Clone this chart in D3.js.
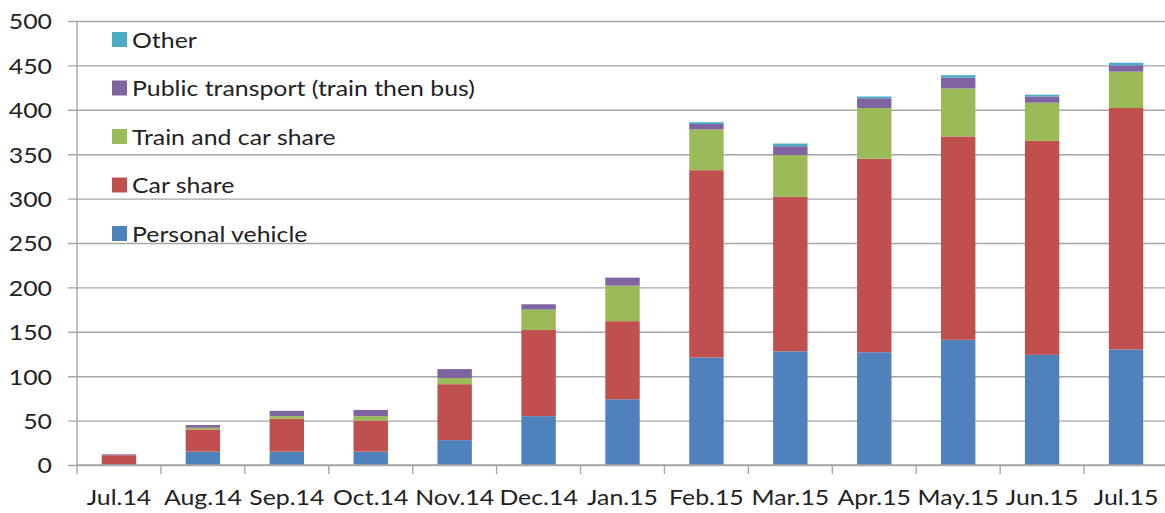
<!DOCTYPE html>
<html>
<head>
<meta charset="utf-8">
<script src="https://cdn.jsdelivr.net/npm/d3@7"></script>
<style>
  html, body { margin: 0; padding: 0; background: #fff; }
  svg text { font-family: "Lato", "Liberation Sans", sans-serif; fill: #222; }
</style>
</head>
<body>
<svg id="chart" width="1165" height="513"></svg>
<script>
// Monthly counts by commute mode
const months = ["Jul.14", "Aug.14", "Sep.14", "Oct.14", "Nov.14", "Dec.14", "Jan.15",
                "Feb.15", "Mar.15", "Apr.15", "May.15", "Jun.15", "Jul.15"];
const personalVehicle = [1, 15, 15, 15, 28, 55, 74, 121, 128, 127, 141, 124, 130];
const carShare        = [10, 25, 37, 35, 63, 97, 88, 211, 174, 218, 229, 241, 272];
const trainCarShare   = [0, 2, 3, 5, 7, 23, 40, 46, 47, 57, 54, 43, 41];
const publicTransport = [1, 3, 6, 7, 10, 6, 9, 6, 10, 11, 12, 7, 7];
const other           = [0, 0, 0, 0, 0, 0, 0, 2, 3, 2, 3, 2, 3];
const yTicks = [0, 50, 100, 150, 200, 250, 300, 350, 400, 450, 500];

const seriesNames = ["Personal vehicle", "Car share", "Train and car share",
                     "Public transport (train then bus)", "Other"];
const seriesColors = ["#4F81BD", "#C0504D", "#9BBB59", "#8064A2", "#4BACC6"];
const seriesValues = [personalVehicle, carShare, trainCarShare, publicTransport, other];

const rows = months.map((m, i) => {
  const r = { month: m };
  seriesNames.forEach((s, k) => { r[s] = seriesValues[k][i]; });
  return r;
});

const svg = d3.select("#chart");
const plotLeft = 77, plotRight = 1168, plotTop = 21, plotBottom = 465;
const fontSize = 22, widen = 1.13;   // slightly widened lettering

const x = d3.scaleBand().domain(months).range([plotLeft, plotRight]).paddingInner(0.59).paddingOuter(0.295);
const y = d3.scaleLinear().domain([0, 500]).range([plotBottom, plotTop]);

const gridColor = "#A6A6A6";

// horizontal gridlines with small outward ticks
const yAxis = d3.axisLeft(y).tickValues(yTicks).tickSize(-(plotRight - plotLeft)).tickSizeOuter(0).tickPadding(25);
const gy = svg.append("g").attr("transform", `translate(${plotLeft},0)`).call(yAxis);
gy.select(".domain").remove();
gy.selectAll(".tick line").attr("stroke", gridColor).attr("stroke-width", 1.4).attr("x1", -9);
gy.selectAll(".tick text")
  .attr("font-size", fontSize).attr("fill", "#222").attr("dy", "0.36em")
  .attr("x", -25 / widen)
  .attr("transform", `scale(${widen},1)`)
  .style("font-family", "Lato, 'Liberation Sans', sans-serif");

// vertical axis line
svg.append("line").attr("x1", plotLeft).attr("x2", plotLeft).attr("y1", plotTop).attr("y2", plotBottom)
  .attr("stroke", gridColor).attr("stroke-width", 1.4);

// stacked bars
const stack = d3.stack().keys(seriesNames);
const layers = stack(rows);
svg.append("g").selectAll("g").data(layers).join("g")
  .attr("fill", (d, i) => seriesColors[i])
  .selectAll("rect").data(d => d).join("rect")
  .attr("x", d => x(d.data.month))
  .attr("width", x.bandwidth())
  .attr("y", d => y(d[1]))
  .attr("height", d => y(d[0]) - y(d[1]));

// category axis with boundary ticks
const bandStep = x.step();
const gx = svg.append("g");
gx.append("line").attr("x1", plotLeft).attr("x2", plotRight).attr("y1", plotBottom).attr("y2", plotBottom)
  .attr("stroke", gridColor).attr("stroke-width", 1.4);
gx.selectAll("line.tk").data(d3.range(months.length + 1)).join("line").attr("class", "tk")
  .attr("x1", i => plotLeft + i * bandStep).attr("x2", i => plotLeft + i * bandStep)
  .attr("y1", plotBottom).attr("y2", plotBottom + 9)
  .attr("stroke", gridColor).attr("stroke-width", 1.4);
gx.selectAll("text").data(months).join("text")
  .attr("transform", d => `translate(${x(d) + x.bandwidth() / 2},505) scale(${widen},1)`)
  .attr("text-anchor", "middle")
  .attr("font-size", fontSize)
  .text(d => d);

// legend, top entry is the top of the stack
const legendOrder = d3.range(seriesNames.length).reverse();
const lg = svg.append("g").selectAll("g").data(legendOrder).join("g")
  .attr("transform", (k, j) => `translate(112,${32 + j * 48.5})`);
lg.append("rect").attr("width", 15).attr("height", 15).attr("fill", k => seriesColors[k]);
lg.append("text")
  .attr("transform", `translate(20,8) scale(${widen},1)`)
  .attr("dy", "0.36em")
  .attr("font-size", fontSize).text(k => seriesNames[k]);
</script>
</body>
</html>
